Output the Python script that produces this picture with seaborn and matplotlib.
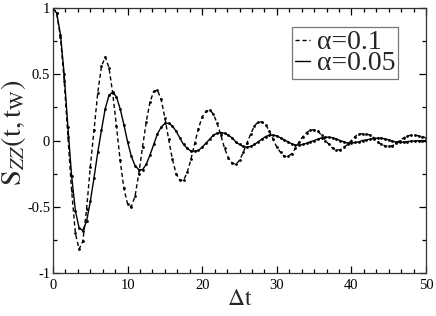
import numpy as np
import pandas as pd
import matplotlib
matplotlib.use("Agg")
import matplotlib.pyplot as plt
import seaborn as sns
from matplotlib.ticker import MultipleLocator
from matplotlib.lines import Line2D

# time axis (Delta t), step 0.5
dt = np.arange(0, 50.5, 0.5)

# alpha = 0.1 (dashed)
s_a01 = [1.00, 0.96, 0.78, 0.45, 0.03, -0.38, -0.70, -0.82, -0.76, -0.52,
         -0.20, 0.08, 0.36, 0.56, 0.63, 0.55, 0.36, 0.11, -0.15, -0.36,
         -0.48, -0.50, -0.42, -0.25, -0.05, 0.14, 0.29, 0.37, 0.38, 0.31,
         0.17, 0.01, -0.14, -0.25, -0.30, -0.30, -0.24, -0.14, -0.02, 0.09,
         0.18, 0.22, 0.23, 0.20, 0.13, 0.04, -0.06, -0.13, -0.17, -0.18,
         -0.15, -0.09, -0.02, 0.05, 0.11, 0.14, 0.14, 0.12, 0.07, 0.01,
         -0.05, -0.09, -0.12, -0.12, -0.10, -0.06, -0.01, 0.03, 0.06, 0.08,
         0.08, 0.07, 0.04, 0.00, -0.03, -0.06, -0.07, -0.07, -0.05, -0.03,
         0.00, 0.03, 0.05, 0.05, 0.05, 0.04, 0.02, -0.01, -0.03, -0.04,
         -0.045, -0.04, -0.02, 0.00, 0.02, 0.035, 0.04, 0.04, 0.035, 0.03,
         0.02]

# alpha = 0.05 (solid)
s_a005 = [1.00, 0.96, 0.80, 0.50, 0.10, -0.27, -0.53, -0.66, -0.68, -0.61,
          -0.46, -0.28, -0.09, 0.08, 0.24, 0.34, 0.365, 0.33, 0.24, 0.12,
          -0.01, -0.12, -0.19, -0.22, -0.22, -0.18, -0.11, -0.03, 0.05, 0.10,
          0.13, 0.13, 0.11, 0.07, 0.02, -0.03, -0.06, -0.08, -0.08, -0.075,
          -0.05, -0.02, 0.01, 0.04, 0.055, 0.06, 0.055, 0.04, 0.02, -0.01,
          -0.03, -0.045, -0.05, -0.045, -0.03, -0.01, 0.01, 0.03, 0.04, 0.04,
          0.035, 0.02, 0.005, -0.01, -0.025, -0.035, -0.035, -0.03, -0.02, -0.01,
          0.00, 0.01, 0.02, 0.025, 0.025, 0.02, 0.01, 0.00, -0.01, -0.02,
          -0.02, -0.015, -0.01, 0.00, 0.005, 0.01, 0.015, 0.018, 0.018, 0.012,
          0.005, -0.005, -0.012, -0.015, -0.012, -0.008, -0.005, -0.003, -0.002, -0.001,
          0.00]

xticks = [0, 10, 20, 30, 40, 50]
yticks = [-1, -0.5, 0, 0.5, 1]
ytick_labels = ["-1", "-0.5", "0", "0.5", "1"]

df = pd.DataFrame({"dt": np.concatenate([dt, dt]),
                   "S": s_a01 + s_a005,
                   "alpha": ["α=0.1"] * len(dt) + ["α=0.05"] * len(dt)})

sns.set_style("ticks")
plt.rcParams["font.family"] = ["Liberation Serif", "DejaVu Serif"]
plt.rcParams["mathtext.fontset"] = "stix"

fig = plt.figure(figsize=(4.36, 3.16), dpi=100)
ax = fig.add_axes([53 / 436, 1 - 273 / 316, 373 / 436, 265 / 316])

sns.lineplot(data=df, x="dt", y="S", hue="alpha", style="alpha",
             palette=["black", "black"], dashes=[(3, 2), ""],
             markers=["o", "o"], markersize=2, markeredgewidth=0,
             linewidth=1.0, ax=ax, legend=False)

ax.set_xlim(0, 50)
ax.set_ylim(-1, 1)
ax.set_xticks(xticks)
ax.set_yticks(yticks)
ax.set_yticklabels(ytick_labels)
ax.xaxis.set_minor_locator(MultipleLocator(10 / 6))
ax.yaxis.set_minor_locator(MultipleLocator(0.25))
ax.tick_params(which="both", direction="in", top=True, right=True,
               labelsize=10.5, colors="black", width=0.9)
ax.tick_params(which="major", length=5)
ax.tick_params(which="minor", length=3)
ax.tick_params(axis="y", pad=2)
ax.tick_params(axis="x", pad=4)
for sp in ax.spines.values():
    sp.set_visible(True)
    sp.set_linewidth(0.9)
    sp.set_color("#333333")

ax.set_xlabel(r"$\mathrm{\Delta t}$", fontsize=17)
ax.xaxis.set_label_coords(0.5, -0.06)
ax.set_ylabel(r"$\mathrm{S}_{ZZ}(\mathrm{t,t}_{\mathrm{W}})$", fontsize=20.5)
ax.yaxis.set_label_coords(-0.066, 0.53)

handles = [Line2D([], [], color="black", lw=1.0, ls=(0, (3, 2))),
           Line2D([], [], color="black", lw=1.0)]
leg = ax.legend(handles, ["α=0.1", "α=0.05"], loc="upper left",
                bbox_to_anchor=((292 - 53) / 373, (273 - 27) / 265),
                fontsize=20, frameon=True, fancybox=False,
                handlelength=0.55, handletextpad=0.25, labelspacing=-0.15,
                borderpad=0.1, borderaxespad=0)
leg.get_frame().set_edgecolor("#555555")
leg.get_frame().set_linewidth(0.9)

fig.savefig("out.png", dpi=100)
